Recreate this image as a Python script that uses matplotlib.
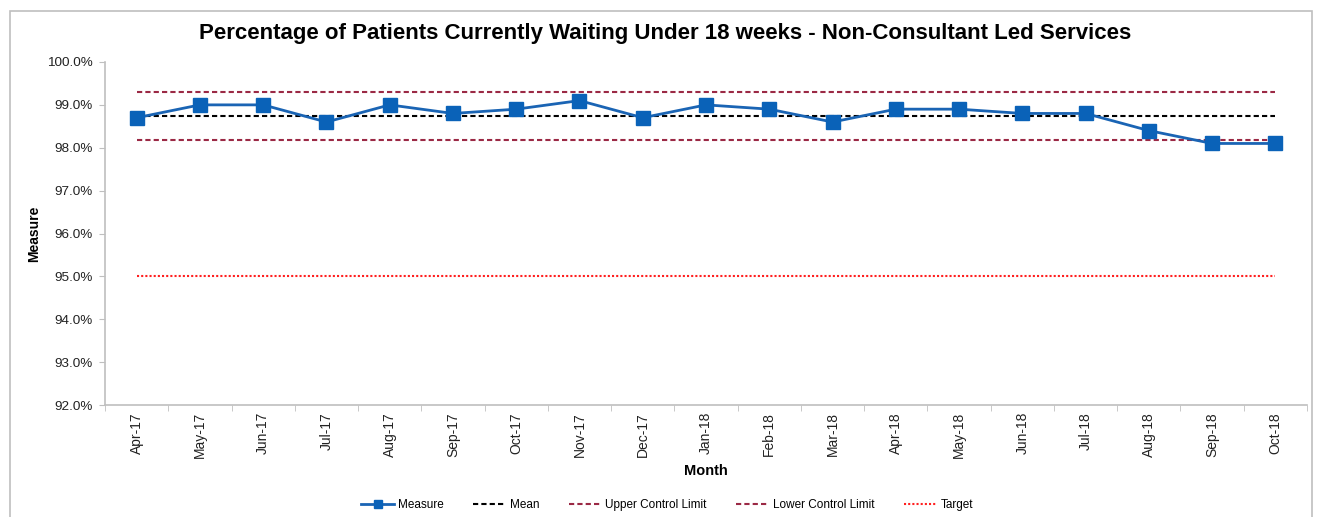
import matplotlib
matplotlib.use("Agg")
import matplotlib.pyplot as plt
from matplotlib.ticker import FuncFormatter, FixedLocator
from matplotlib.patches import Rectangle

plt.rcParams['font.family'] = ['Liberation Sans', 'DejaVu Sans']

months = ["Apr-17", "May-17", "Jun-17", "Jul-17", "Aug-17", "Sep-17", "Oct-17", "Nov-17",
          "Dec-17", "Jan-18", "Feb-18", "Mar-18", "Apr-18", "May-18", "Jun-18", "Jul-18",
          "Aug-18", "Sep-18", "Oct-18"]
measure = [98.7, 99.0, 99.0, 98.6, 99.0, 98.8, 98.9, 99.1, 98.7, 99.0, 98.9, 98.6,
           98.9, 98.9, 98.8, 98.8, 98.4, 98.1, 98.1]
mean_val = 98.75
ucl_val = 99.31
lcl_val = 98.19
target_val = 95.0

n = len(months)
x = list(range(n))

fig = plt.figure(figsize=(13.17, 5.17), dpi=100)
ax = fig.add_axes([105/1317, 1-405/517, (1307-105)/1317, (405-62)/517])

ax.plot(x, [mean_val]*n, color='black', linestyle=(0, (2.5, 1.5)), linewidth=1.5, label='Mean', zorder=2)
ax.plot(x, [ucl_val]*n, color='#9b2945', linestyle=(0, (2.5, 1.5)), linewidth=1.5, label='Upper Control Limit', zorder=2)
ax.plot(x, [lcl_val]*n, color='#9b2945', linestyle=(0, (2.5, 1.5)), linewidth=1.5, label='Lower Control Limit', zorder=2)
ax.plot(x, [target_val]*n, color='#ff2020', linestyle=(0, (1, 1)), linewidth=1.5, label='Target', zorder=2)
ax.plot(x, measure, color='#1a64b4', marker='s', markersize=9.5, linewidth=2,
        markerfacecolor='#0a62b8', markeredgecolor='#0a62b8', label='Measure', zorder=3)

ax.set_xlim(-0.5, n-0.5)
ax.set_ylim(92, 100)
ax.set_yticks([92, 93, 94, 95, 96, 97, 98, 99, 100])
ax.yaxis.set_major_formatter(FuncFormatter(lambda v, p: f"{v:.1f}%"))
ax.set_xticks(x)
ax.set_xticklabels(months, rotation=90, fontsize=10, color='#222222')
ax.tick_params(axis='x', length=0, pad=5)
ax.xaxis.set_minor_locator(FixedLocator([i - 0.5 for i in range(n + 1)]))
ax.tick_params(axis='x', which='minor', length=4, color='#bfbfbf', direction='out')
ax.tick_params(axis='y', labelsize=9.7, colors='#bfbfbf', labelcolor='#222222', length=4, pad=5)

for s in ['top', 'right']:
    ax.spines[s].set_visible(False)
for s in ['left', 'bottom']:
    ax.spines[s].set_color('#bfbfbf')
    ax.spines[s].set_linewidth(1.2)

ax.set_ylabel('Measure', fontsize=10, fontweight='bold')
ax.yaxis.set_label_coords((41-105)/1202, 0.5)
ax.set_xlabel('Month', fontsize=10.5, fontweight='bold', labelpad=4)

fig.text(665/1317, 1-33/517, 'Percentage of Patients Currently Waiting Under 18 weeks - Non-Consultant Led Services',
         ha='center', va='center', fontsize=16, fontweight='bold')

handles, labels = ax.get_legend_handles_labels()
order = [4, 0, 1, 2, 3]
leg = fig.legend([handles[i] for i in order], [labels[i] for i in order],
                 loc='center', bbox_to_anchor=(667/1317, 1-505/517), ncol=5, frameon=False,
                 fontsize=8.5, handlelength=2.8, columnspacing=2.5, handletextpad=0.3)
for h in leg.legend_handles:
    h.set_markersize(6)

fig.patches.append(Rectangle((10/1317, -0.1), (1312-10)/1317, 1.1 - 11/517,
                             transform=fig.transFigure, fill=False, edgecolor='#bfbfbf',
                             linewidth=1.2, figure=fig))

fig.savefig('out.png', dpi=100)
